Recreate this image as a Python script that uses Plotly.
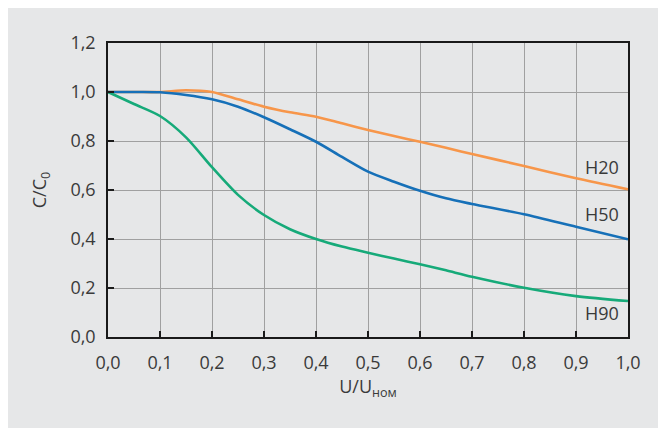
import plotly.graph_objects as go

u = [0.0, 0.05, 0.1, 0.15, 0.2, 0.25, 0.3, 0.35, 0.4, 0.45, 0.5, 0.55, 0.6, 0.65, 0.7, 0.8, 0.9, 1.0]
h20 = [1.0, 1.0, 1.0, 1.007, 1.0, 0.97, 0.94, 0.917, 0.899, 0.872, 0.845, 0.82, 0.797, 0.772, 0.747, 0.698, 0.648, 0.603]
h50 = [1.0, 1.0, 0.999, 0.988, 0.97, 0.94, 0.897, 0.848, 0.797, 0.735, 0.675, 0.634, 0.597, 0.566, 0.543, 0.501, 0.45, 0.399]
h90 = [1.0, 0.951, 0.902, 0.815, 0.693, 0.58, 0.498, 0.44, 0.40, 0.369, 0.344, 0.32, 0.297, 0.272, 0.246, 0.201, 0.167, 0.147]

series_names = ["H20", "H50", "H90"]
series_colors = ["#f7964a", "#1670b8", "#16aa79"]
label_x = [0.95, 0.95, 0.95]
label_y = [0.694, 0.502, 0.098]

x_tickvals = [0.0, 0.1, 0.2, 0.3, 0.4, 0.5, 0.6, 0.7, 0.8, 0.9, 1.0]
x_ticktext = ["0,0", "0,1", "0,2", "0,3", "0,4", "0,5", "0,6", "0,7", "0,8", "0,9", "1,0"]
y_tickvals = [0.0, 0.2, 0.4, 0.6, 0.8, 1.0, 1.2]
y_ticktext = ["0,0", "0,2", "0,4", "0,6", "0,8", "1,0", "1,2"]

FONT = "Open Sans"
TXT = "#3a3a3a"
BG = "#e6e7e8"
FS = 18
FW = 400

fig = go.Figure()
for name, ys, col in zip(series_names, [h20, h50, h90], series_colors):
    fig.add_trace(go.Scatter(x=u, y=ys, mode="lines", name=name,
                             line=dict(color=col, width=2.6, shape="spline", smoothing=0.8),
                             hoverinfo="skip"))

for name, lx, ly in zip(series_names, label_x, label_y):
    fig.add_annotation(x=lx, y=ly, text=name, showarrow=False, xref="x", yref="y",
                       font=dict(family=FONT, size=FS, color=TXT, weight=FW))

axis_common = dict(showline=True, linecolor="#1a1a1a", linewidth=1.5, mirror=True,
                   showgrid=True, gridcolor="#a0a0a0", gridwidth=1.3,
                   ticks="inside", ticklen=6, tickcolor="#1a1a1a", tickwidth=1.5,
                   zeroline=False,
                   tickfont=dict(family=FONT, size=FS, color=TXT, weight=FW))

fig.update_xaxes(range=[0, 1.0], tickvals=x_tickvals, ticktext=x_ticktext,
                 ticklabelstandoff=9,
                 title=dict(text="U/U<sub>ном</sub>", standoff=7,
                            font=dict(family=FONT, size=FS, color=TXT, weight=FW)),
                 **axis_common)
fig.update_yaxes(range=[0, 1.2], tickvals=y_tickvals, ticktext=y_ticktext,
                 ticklabelstandoff=7,
                 title=dict(text="C/C<sub>0</sub>", standoff=19,
                            font=dict(family=FONT, size=FS, color=TXT, weight=FW)),
                 **axis_common)

fig.update_layout(width=666, height=428, margin=dict(l=100, r=46, t=35, b=99),
                  paper_bgcolor=BG, plot_bgcolor=BG,
                  showlegend=False, font=dict(family=FONT, color=TXT))

fig.write_html("out.html")
